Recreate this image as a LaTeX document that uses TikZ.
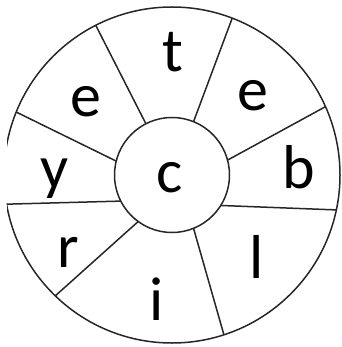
\documentclass[tikz,border=0pt]{standalone}
\usepackage{fontspec}
\setmainfont{Carlito}
\begin{document}
\begin{tikzpicture}[x=1pt,y=-1pt,
  ring/.style={draw=black!85, line width=1.5pt, circle, inner sep=0pt, outer sep=0pt},
  spoke/.style={draw=black!85, line width=1.5pt},
  letter/.style={font=\fontsize{62}{62}\selectfont, anchor=base, inner sep=0pt}]
\useasboundingbox (0,0) rectangle (341,347);
\begin{scope}
\clip (7,0) rectangle (341,347);
\node[ring, minimum size=336pt] (outer) at (172,175) {};
\end{scope}
\node[ring, minimum size=115pt] (c) at (172,175) {};
\node[letter] (lc) at (170,192) {c};
\draw[spoke] (c.117.4) -- (outer.117.9);
\draw[spoke] (c.68.7) -- (outer.69.7);
\draw[spoke] (c.15) -- (outer.24.9);
\draw[spoke] (c.-32.9) -- (outer.-12.5);
\draw[spoke] (c.-68.4) -- (outer.-72.4);
\draw[spoke] (c.-126.9) -- (outer.-134.3);
\draw[spoke] (c.-153.9) -- (outer.-170.7);
\draw[spoke] (c.166.4) -- (outer.158.2);
\node[letter] (lt) at (173,72) {t};
\node[letter] (le1) at (86,117) {e};
\node[letter] (le2) at (253,111) {e};
\node[letter] (lb) at (299,188) {b};
\node[letter] (ly) at (55,188) {y};
\node[letter] (lr) at (68,267) {r};
\node[letter] (li) at (157,320) {i};
\node[letter] (ll) at (257,278) {l};
\end{tikzpicture}
\end{document}
